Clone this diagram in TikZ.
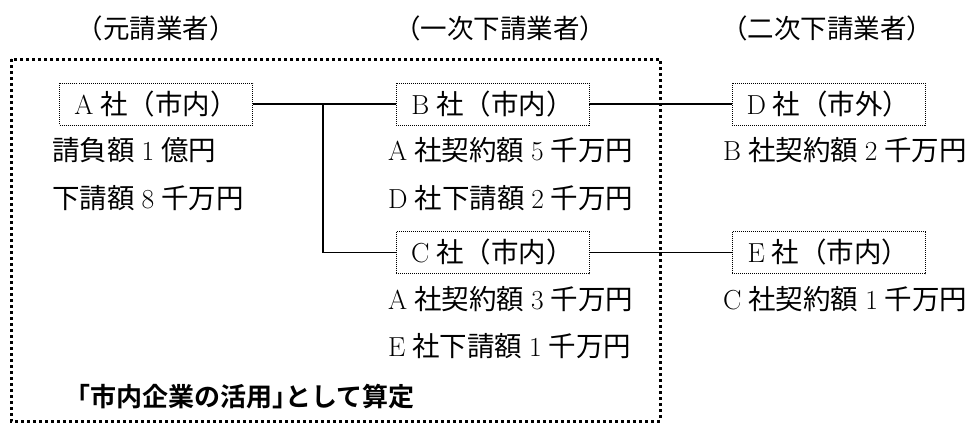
\documentclass[tikz,border=0pt]{standalone}
\usepackage{fontspec}
\newfontfamily\cjk{Noto Sans CJK JP}
\newfontfamily\cjkb{Noto Sans CJK JP Bold}
\newcommand\jp[1]{{\cjk #1}}
\begin{document}
\begin{tikzpicture}[x=1pt,y=-1pt,
  every node/.style={font=\fontsize{27.5}{32}\selectfont, inner sep=0pt},
  cobox/.style={draw, line width=0.8pt, dash pattern=on 1pt off 1pt, minimum width=193pt, minimum height=42pt},
  link/.style={line width=1.4pt},
  zone/.style={draw, line width=3pt, dash pattern=on 3pt off 3pt},
  head/.style={font=\fontsize{26.5}{30}\selectfont\cjk},
  txt/.style={anchor=west}]
\useasboundingbox (0,0) rectangle (976,424);
% zone
\draw[zone] (11,59) rectangle (660,421);
% headers
\node[head] (h1) at (156,28) {（元請業者）};
\node[head] (h2) at (500,28) {（一次下請業者）};
\node[head] (h3) at (827,28) {（二次下請業者）};
% boxes
\node[cobox] (A) at (156,104) {A\hspace{0.25em}\jp{社（市内）}};
\node[cobox] (B) at (492.5,104) {B\hspace{0.25em}\jp{社（市内）}};
\node[cobox] (D) at (828.5,104) {D\hspace{0.25em}\jp{社（市外）}};
\node[cobox] (C) at (492.5,252.5) {C\hspace{0.25em}\jp{社（市内）}};
\node[cobox] (E) at (828.5,252.5) {E\hspace{0.25em}\jp{社（市内）}};
% texts
\node[txt] (a1) at (52,150) {\jp{請負額}\hspace{0.25em}1\hspace{0.25em}\jp{億円}};
\node[txt] (a2) at (52,198) {\jp{下請額}\hspace{0.25em}8\hspace{0.25em}\jp{千万円}};
\node[txt] (b1) at (388,150) {A\hspace{0.25em}\jp{社契約額}\hspace{0.25em}5\hspace{0.25em}\jp{千万円}};
\node[txt] (b2) at (388,198) {D\hspace{0.25em}\jp{社下請額}\hspace{0.25em}2\hspace{0.25em}\jp{千万円}};
\node[txt] (c1) at (388,299) {A\hspace{0.25em}\jp{社契約額}\hspace{0.25em}3\hspace{0.25em}\jp{千万円}};
\node[txt] (c2) at (388,346) {E\hspace{0.25em}\jp{社下請額}\hspace{0.25em}1\hspace{0.25em}\jp{千万円}};
\node[txt] (d1) at (723,150) {B\hspace{0.25em}\jp{社契約額}\hspace{0.25em}2\hspace{0.25em}\jp{千万円}};
\node[txt] (e1) at (723,299) {C\hspace{0.25em}\jp{社契約額}\hspace{0.25em}1\hspace{0.25em}\jp{千万円}};
\node[txt, font=\fontsize{26}{30}\selectfont\cjkb] (lbl) at (64,397) {「市内企業の活用」\hspace{-0.5em}として算定};
% links
\coordinate (j) at (323,104);
\draw[link] (A.east) -- (j) -- (B.west);
\draw[link] (j) |- (C.west);
\draw[link] (B.east) -- (D.west);
\draw[link] (C.east) -- (E.west);
\end{tikzpicture}
\end{document}
